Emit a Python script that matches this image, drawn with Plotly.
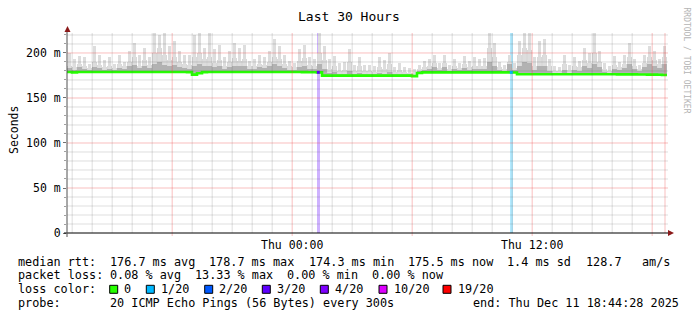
import plotly.graph_objects as go
import pandas as pd

# ---------------- data ----------------
title = "Last 30 Hours"
y_label = "Seconds"
start = pd.Timestamp("2025-12-10 12:44:28")
end = pd.Timestamp("2025-12-11 18:44:28")
last_update = pd.Timestamp("2025-12-11 18:38:28")
step_minutes = 15

# smoke: highest ping per 15 min column (ms)
smoke_max_ms = [
    200, 193, 197, 195, 188, 208, 198, 192, 196, 188,
    198, 190, 202, 211, 198, 206, 196, 222, 220, 222,
    208, 213, 202, 198, 198, 220, 222, 206, 222, 204,
    209, 195, 202, 211, 206, 209, 191, 193, 198, 195,
    202, 215, 208, 198, 191, 189, 204, 209, 195, 193,
    222, 208, 193, 197, 189, 190, 204, 187, 195, 187,
    187, 186, 195, 192, 200, 184, 189, 184, 183, 182,
    187, 191, 193, 198, 189, 198, 187, 193, 189, 197,
    191, 195, 193, 194, 222, 211, 190, 187, 198, 189,
    213, 222, 222, 195, 213, 215, 193, 185, 184, 198,
    187, 195, 191, 206, 200, 222, 202, 189, 186, 197,
    190, 198, 211, 193, 187, 198, 208, 202, 193, 208,
]
# smoke: upper part of the dense band (ms)
smoke_mid_ms = [
    186, 184, 188, 185, 183, 190, 187, 184, 186, 183,
    188, 185, 190, 195, 186, 192, 187, 200, 205, 198,
    192, 196, 190, 188, 187, 195, 200, 193, 196, 189,
    192, 186, 190, 194, 191, 193, 185, 186, 188, 187,
    190, 196, 193, 188, 185, 184, 191, 194, 187, 186,
    200, 192, 182, 186, 180, 181, 190, 180, 185, 180,
    180, 179, 184, 182, 188, 179, 181, 179, 178, 178,
    182, 184, 186, 189, 183, 189, 182, 186, 183, 188,
    184, 186, 185, 186, 205, 196, 184, 182, 190, 183,
    198, 205, 203, 186, 196, 198, 185, 180, 180, 188,
    181, 186, 184, 192, 189, 200, 190, 182, 180, 187,
    184, 188, 196, 185, 182, 189, 195, 192, 188, 195,
]
# smoke: darkest band just above the median (ms)
smoke_dark_ms = [
    183, 181, 184, 182, 181, 184, 183, 181, 182, 181,
    183, 182, 185, 187, 183, 185, 183, 188, 190, 187,
    185, 187, 184, 183, 182, 186, 188, 185, 186, 184,
    185, 182, 184, 186, 185, 186, 182, 182, 184, 183,
    185, 188, 186, 183, 181, 181, 184, 186, 182, 182,
    188, 182, 178, 179, 177, 177, 180, 177, 178, 177,
    177, 176, 178, 177, 179, 176, 177, 176, 176, 175,
    180, 181, 182, 184, 181, 184, 180, 182, 181, 183,
    181, 182, 182, 182, 190, 186, 181, 180, 188, 181,
    186, 190, 189, 181, 185, 186, 180, 178, 178, 181,
    178, 181, 180, 185, 183, 188, 184, 179, 178, 182,
    181, 183, 188, 182, 180, 184, 188, 186, 183, 188,
]
# median rtt per column (ms)
median_ms = [
    178.8, 178.5, 178.8, 178.8, 178.8, 178.8, 178.8, 178.8, 178.8, 178.8,
    178.8, 178.8, 178.8, 178.8, 178.8, 178.8, 178.8, 178.8, 178.8, 178.8,
    178.8, 178.8, 178.8, 178.8, 178.7, 176.0, 177.4, 178.7, 178.8, 178.8,
    178.8, 178.8, 178.8, 178.8, 178.8, 178.8, 178.8, 178.8, 178.8, 178.8,
    178.8, 178.8, 178.8, 178.8, 178.8, 178.8, 178.8, 178.7, 178.6, 178.6,
    178.5, 174.8, 174.8, 174.8, 174.8, 174.8, 174.8, 174.8, 174.8, 174.8,
    174.8, 174.8, 174.8, 174.8, 174.8, 174.8, 174.8, 174.8, 174.8, 174.3,
    177.8, 178.4, 178.4, 178.4, 178.4, 178.4, 178.4, 178.4, 178.4, 178.4,
    178.4, 178.4, 178.4, 178.4, 178.4, 178.4, 178.4, 178.4, 178.5, 178.3,
    176.3, 176.3, 176.3, 176.3, 176.3, 176.3, 176.3, 176.3, 176.3, 176.3,
    176.3, 176.3, 176.3, 176.3, 176.3, 176.3, 176.3, 176.3, 176.3, 176.3,
    176.2, 176.2, 176.2, 176.2, 176.1, 176.1, 176.0, 176.0, 175.8, 175.5,
]

loss_times = ["2025-12-11 01:18:22", "2025-12-11 10:57:22"]
loss_counts = [3, 1]

loss_legend_labels = ["0", "1/20", "2/20", "3/20", "4/20", "10/20", "19/20"]
loss_legend_counts = [0, 1, 2, 3, 4, 10, 19]
loss_legend_colors = ["#26ff00", "#00b8ff", "#0059ff", "#5e00ff", "#7e00ff", "#dd00ff", "#ff0000"]

y_tick_vals = [0, 50, 100, 150, 200]
y_tick_text = ["0", "50 m", "100 m", "150 m", "200 m"]
x_tick_vals = ["2025-12-11 00:00:00", "2025-12-11 12:00:00"]
x_tick_text = ["Thu 00:00", "Thu 12:00"]

legend_line1 = ["median rtt:", "176.7 ms avg", "178.7 ms max", "174.3 ms min", "175.5 ms now", "1.4 ms sd", "128.7", "am/s"]
legend_line2 = ["packet loss:", "0.08 % avg", "13.33 % max", "0.00 % min", "0.00 % now"]
legend_line3_label = "loss color:"
legend_line4 = ["probe:", "20 ICMP Echo Pings (56 Bytes) every 300s"]
legend_end = "end: Thu Dec 11 18:44:28 2025"
watermark = "RRDTOOL / TOBI OETIKER"

# ---------------- layout geometry ----------------
W, H = 697, 321
PL, PR, PT, PB = 67, 30, 33, 88
PW, PH = W - PL - PR, H - PT - PB
Y_TOP = 222.2
FONT = "DejaVu Sans Mono"
LFS = 11.8            # legend font size
CW = 7.1              # char advance of the legend font (px)
LX0 = 16.5            # legend left edge


def px(x):
    return (x - PL) / PW


def py(y):
    return (PT + PH - y) / PH


def loss_color(count, alpha=None):
    col = loss_legend_colors[0]
    for c, colr in zip(loss_legend_counts, loss_legend_colors):
        if count >= c:
            col = colr
    if alpha is None:
        return col
    r, g, b = int(col[1:3], 16), int(col[3:5], 16), int(col[5:7], 16)
    return f"rgba({r},{g},{b},{alpha})"


n = len(median_ms)
col_starts = pd.date_range(start, periods=n, freq=f"{step_minutes}min")
col_centers = col_starts + pd.Timedelta(minutes=step_minutes / 2)
col_width_ms = step_minutes * 60 * 1000

fig = go.Figure()

# loss bars (full height)
fig.add_trace(go.Bar(
    x=pd.to_datetime(loss_times), y=[Y_TOP] * len(loss_times), base=0,
    width=9 * 60 * 1000,
    marker=dict(color=[loss_color(c, 0.3) for c in loss_counts], line=dict(width=0)),
    hoverinfo="skip",
))

# smoke layers (top values, colour, width fraction of a column)
for top, colr, frac in [(smoke_mid_ms, "#d9d9d9", 1.0),
                        (smoke_max_ms, "#dddddd", 0.75),
                        (smoke_dark_ms, "#b2b2b2", 1.0)]:
    fig.add_trace(go.Bar(
        x=col_centers, y=[t - m for t, m in zip(top, median_ms)], base=median_ms,
        width=col_width_ms * frac,
        marker=dict(color=colr, line=dict(width=0)),
        hoverinfo="skip",
    ))

# median line
fig.add_trace(go.Scatter(
    x=list(col_starts) + [end], y=median_ms + [median_ms[-1]],
    mode="lines", line=dict(color="#26ff00", width=2.6, shape="hv"),
    hoverinfo="skip",
))

# median colored by loss at loss events
for t, c in zip(pd.to_datetime(loss_times), loss_counts):
    idx = int((t - start) / pd.Timedelta(minutes=step_minutes))
    fig.add_trace(go.Scatter(
        x=[t - pd.Timedelta(minutes=4.5), t + pd.Timedelta(minutes=4.5)],
        y=[median_ms[idx], median_ms[idx]],
        mode="lines", line=dict(color=loss_color(c), width=3),
        hoverinfo="skip",
    ))

shapes = []
MINOR = "rgba(90,90,90,0.2)"
MAJOR = "rgba(240,60,60,0.33)"
# vertical grid
t = start.ceil("h")
while t <= end:
    major = (t.hour % 6 == 0)
    shapes.append(dict(type="line", xref="x", yref="paper", x0=t, x1=t,
                       y0=-0.015 if major else 0, y1=1,
                       line=dict(color=MAJOR if major else MINOR, width=1), layer="above"))
    t += pd.Timedelta(hours=1)
shapes.append(dict(type="line", xref="x", yref="paper", x0=last_update, x1=last_update,
                   y0=0, y1=1, line=dict(color=MAJOR, width=1), layer="above"))
# horizontal grid
for v in range(10, 230, 10):
    major = (v % 50 == 0)
    shapes.append(dict(type="line", xref="paper", yref="y", x0=0, x1=px(668), y0=v, y1=v,
                       line=dict(color=MAJOR if major else MINOR, width=1), layer="above"))
# axes
shapes.append(dict(type="line", xref="paper", yref="paper", x0=px(64), x1=px(669), y0=0, y1=0,
                   line=dict(color="black", width=1), layer="above"))
shapes.append(dict(type="line", xref="paper", yref="paper", x0=0, x1=0, y0=py(237), y1=py(31),
                   line=dict(color="#505050", width=1), layer="above"))
# arrows
shapes.append(dict(type="path", xref="paper", yref="paper",
                   path=f"M {px(64.5)} {py(32)} L {px(70.5)} {py(32)} L {px(67.5)} {py(26)} Z",
                   fillcolor="#8b1a1a", line=dict(width=0), layer="above"))
shapes.append(dict(type="path", xref="paper", yref="paper",
                   path=f"M {px(668)} {py(230)} L {px(668)} {py(236)} L {px(674)} {py(233)} Z",
                   fillcolor="#8b1a1a", line=dict(width=0), layer="above"))

annotations = []


def text(s, x, y, size=LFS, anchor="left", color="black", angle=0, yanchor="middle"):
    annotations.append(dict(text=s, x=px(x), y=py(y), xref="paper", yref="paper",
                            xanchor=anchor, yanchor=yanchor, showarrow=False, textangle=angle,
                            font=dict(family=FONT, size=size, color=color), borderpad=0))


text(title, 348.5, 16, size=13, anchor="center")
text(y_label, 14, 130, size=11.5, angle=-90, anchor="center")
text(watermark, 686.5, 60, size=8, anchor="center", color="#b4b4b4", angle=90)

y1, y2, y3, y4 = 261.5, 275.3, 289.3, 303.3
# character columns of each legend item (monospaced layout)
for s, col in zip(legend_line1, [0, 13, 27, 41, 55, 69, 80, 88]):
    text(s, LX0 + col * CW, y1)
for s, col in zip(legend_line2, [0, 13, 25, 38, 50]):
    text(s, LX0 + col * CW, y2)
text(legend_line3_label, LX0, y3)
box_centers = [113.7, 150.3, 208.7, 266.3, 324.3, 383.0, 447.0]
for lab, colr, bx in zip(loss_legend_labels, loss_legend_colors, box_centers):
    shapes.append(dict(type="rect", xref="paper", yref="paper",
                       x0=px(bx - 4), x1=px(bx + 4), y0=py(y3 + 4), y1=py(y3 - 4),
                       fillcolor=colr, line=dict(color="black", width=1), layer="above"))
    text(lab, bx + 9.5, y3)
for s, col in zip(legend_line4, [0, 13]):
    text(s, LX0 + col * CW, y4)
text(legend_end, 680, y4, anchor="right")

fig.update_layout(
    width=W, height=H,
    margin=dict(l=PL, r=PR, t=PT, b=PB, pad=0),
    paper_bgcolor="white", plot_bgcolor="white",
    showlegend=False, barmode="overlay", bargap=0,
    font=dict(family=FONT, size=11.5, color="black"),
    shapes=shapes, annotations=annotations,
    xaxis=dict(type="date", range=[start, end], showgrid=False, zeroline=False,
               tickvals=pd.to_datetime(x_tick_vals), ticktext=x_tick_text,
               ticks="", showline=False, ticklabelstandoff=3,
               tickfont=dict(family=FONT, size=11.5)),
    yaxis=dict(range=[0, Y_TOP], showgrid=False, zeroline=False,
               tickvals=y_tick_vals, ticktext=y_tick_text,
               ticks="outside", ticklen=3, tickcolor="#707070",
               minor=dict(dtick=10, ticks="outside", ticklen=2, tickcolor="#a0a0a0", showgrid=False),
               showline=False, tickfont=dict(family=FONT, size=11.5)),
)

fig.write_html("out.html")
